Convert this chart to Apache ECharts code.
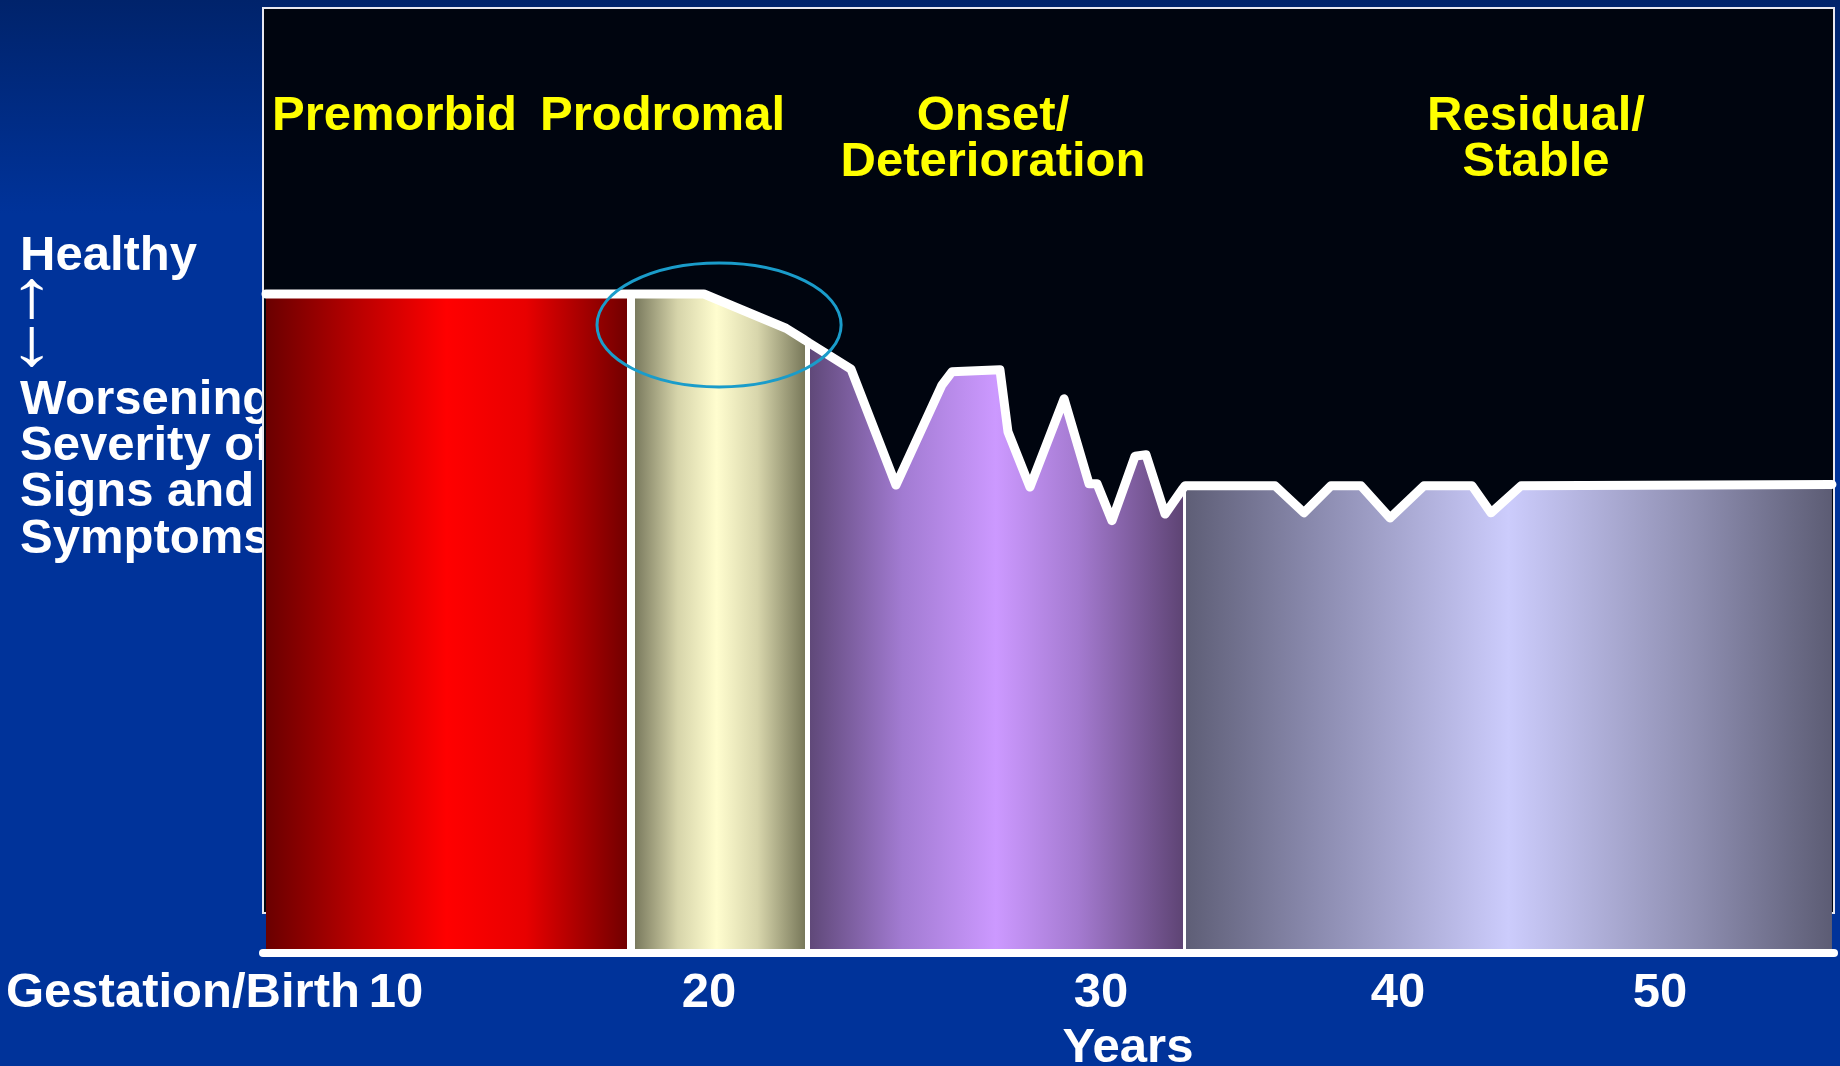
<!DOCTYPE html>
<html>
<head>
<meta charset="utf-8">
<script src="https://cdn.jsdelivr.net/npm/echarts@6/dist/echarts.min.js"></script>
<style>
html,body{margin:0;padding:0;background:#00339a;}
#chart{width:1840px;height:1066px;}
</style>
</head>
<body>
<div id="chart"></div>
<script>
// ---- data (x: position along the life-course timeline, 0-100; y: health level, 100 = healthy) ----
const tickPositions = [8.47, 28.39, 53.34, 72.25, 88.92];
const tickLabels = ['10', '20', '30', '40', '50'];
const phaseNames = ['Premorbid', 'Prodromal', 'Onset/\nDeterioration', 'Residual/\nStable'];

const premorbid = [[0.19, 100], [23.17, 100]];
const prodromal = [[23.68, 100], [28.07, 100], [33.29, 94.8], [34.50, 93.0]];
const onset = [[34.75, 92.6], [37.43, 88.6], [40.29, 71.0], [43.22, 86.2], [43.86, 88.2],
  [46.91, 88.5], [47.42, 79.1], [48.82, 70.7], [50.99, 84.1], [52.58, 71.2], [53.09, 71.2],
  [54.04, 65.6], [55.51, 75.4], [56.21, 75.6], [57.42, 66.6], [58.56, 70.5]];
const residual = [[58.69, 70.9], [64.42, 70.9], [66.26, 66.8], [67.98, 70.9], [69.89, 70.9],
  [71.74, 66.0], [73.90, 70.9], [76.96, 70.9], [78.17, 66.8], [80.08, 70.9], [99.87, 71.1]];
const phaseBoundaries = [[23.42, 100], [34.63, 92.8], [58.63, 70.7]];
const transitionHighlight = [[29.03, 95.3, 7.77, 9.4]]; // center x, center y, half-width, half-height

// ---- chart ----
const chart = echarts.init(document.getElementById('chart'), null, {renderer: 'canvas'});
const FONT = 'bold 49px "Liberation Sans", Arial, sans-serif';

function hGrad(stops) {
  return new echarts.graphic.LinearGradient(0, 0, 1, 0,
    stops.map(s => ({offset: s[0], color: s[1]})));
}

const areaSeries = (name, data, grad) => ({
  name, type: 'line', data, z: 2,
  symbol: 'none', showSymbol: false, silent: true,
  lineStyle: {width: 0, opacity: 0},
  areaStyle: {color: grad, opacity: 1, origin: 'start'}
});

const outline = [].concat(premorbid, prodromal, onset, residual);
const sepWidths = [8, 5, 3];

const txt = (x, y, text, fill, align, extra) => ({
  type: 'text', z: 20,
  style: Object.assign({x, y, text, font: FONT, fill, align, verticalAlign: 'middle'}, extra || {})
});

const option = {
  animation: false,
  backgroundColor: {
    type: 'linear', x: 0, y: 0, x2: 0, y2: 1,
    colorStops: [
      {offset: 0, color: '#00236b'},
      {offset: 0.2, color: '#00339a'},
      {offset: 1, color: '#00339a'}
    ]
  },
  grid: {left: 263, right: 6, top: 30.4, bottom: 113, containLabel: false, outerBoundsMode: 'none'},
  xAxis: {
    type: 'value', min: 0, max: 100, z: 10,
    axisLine: {show: true, onZero: false, lineStyle: {color: '#ffffff', width: 8}},
    axisTick: {show: false},
    splitLine: {show: false},
    axisLabel: {
      customValues: tickPositions,
      formatter: v => {
        const i = tickPositions.findIndex(t => Math.abs(t - v) < 1e-6);
        return i >= 0 ? tickLabels[i] : '';
      },
      color: '#ffffff', fontSize: 49, fontWeight: 'bold',
      fontFamily: '"Liberation Sans", Arial, sans-serif',
      margin: 16, lineHeight: 49
    }
  },
  yAxis: {
    type: 'value', min: 0, max: 140, show: false,
    splitLine: {show: false}
  },
  graphic: [
    {
      type: 'text', z: 0,
      style: {x: 20, y: 256, text: 'Healthy', font: FONT, fill: '#ffffff', align: 'left', verticalAlign: 'middle'}
    },
    {
      type: 'text', z: 0, x: 32, y: 298, scaleX: 1.9, scaleY: 1.38,
      style: {x: 0, y: 0, text: '\u2191', font: FONT, fill: '#ffffff', align: 'center', verticalAlign: 'middle'}
    },
    {
      type: 'text', z: 0, x: 32, y: 346, scaleX: 1.9, scaleY: 1.38,
      style: {x: 0, y: 0, text: '\u2193', font: FONT, fill: '#ffffff', align: 'center', verticalAlign: 'middle'}
    },
    {
      type: 'text', z: 0,
      style: {
        x: 20, y: 377,
        text: 'Worsening\nSeverity of\nSigns and\nSymptoms',
        font: FONT, fill: '#ffffff', lineHeight: 46.3,
        align: 'left', verticalAlign: 'top'
      }
    },
    {
      type: 'rect', z: 1,
      shape: {x: 263, y: 8, width: 1571, height: 905},
      style: {fill: '#00050f', stroke: '#e8e8f0', lineWidth: 2}
    },
    txt(272, 116, phaseNames[0], '#ffff00', 'left'),
    txt(540, 116, phaseNames[1], '#ffff00', 'left'),
    txt(993, 139.5, phaseNames[2], '#ffff00', 'center', {lineHeight: 46}),
    txt(1536, 139.5, phaseNames[3], '#ffff00', 'center', {lineHeight: 46}),
    txt(6, 993, 'Gestation/Birth', '#ffffff', 'left'),
    txt(1128, 1048, 'Years', '#ffffff', 'center')
  ],
  series: [
    areaSeries('Premorbid', premorbid, hGrad([[0, '#6a0000'], [0.25, '#b80000'], [0.5, '#ff0000'], [0.72, '#e80000'], [1, '#720000']])),
    areaSeries('Prodromal', prodromal, hGrad([[0, '#7a7a5e'], [0.25, '#d6d4aa'], [0.48, '#fffdcf'], [0.72, '#d8d6ac'], [1, '#78785a']])),
    areaSeries('Onset', onset, hGrad([[0, '#5f4878'], [0.25, '#a27bd2'], [0.5, '#cc99ff'], [0.72, '#a47ad0'], [1, '#5e4474']])),
    areaSeries('Residual', residual, hGrad([[0, '#5e5e76'], [0.2, '#8a8aae'], [0.5, '#ccccfc'], [0.8, '#8c8cae'], [1, '#5c5c74']])),
    {
      name: 'outline', type: 'line', data: outline, z: 5,
      symbol: 'none', showSymbol: false, silent: true,
      lineStyle: {color: '#ffffff', width: 9, join: 'round', cap: 'round'},
      markLine: {
        silent: true, symbol: ['none', 'none'], label: {show: false},
        animation: false,
        data: phaseBoundaries.map((b, i) => [
          {coord: [b[0], 0], lineStyle: {color: '#ffffff', width: sepWidths[i], type: 'solid'}},
          {coord: [b[0], b[1]]}
        ])
      }
    },
    {
      name: 'transition', type: 'custom', z: 30, silent: true,
      data: transitionHighlight,
      renderItem: (params, api) => {
        const c = api.coord([api.value(0), api.value(1)]);
        const s = api.size([api.value(2), api.value(3)]);
        return {
          type: 'ellipse',
          shape: {cx: c[0], cy: c[1], rx: s[0], ry: s[1]},
          style: {fill: 'none', stroke: '#1a9cca', lineWidth: 3}
        };
      }
    }
  ]
};
chart.setOption(option);
</script>
</body>
</html>
